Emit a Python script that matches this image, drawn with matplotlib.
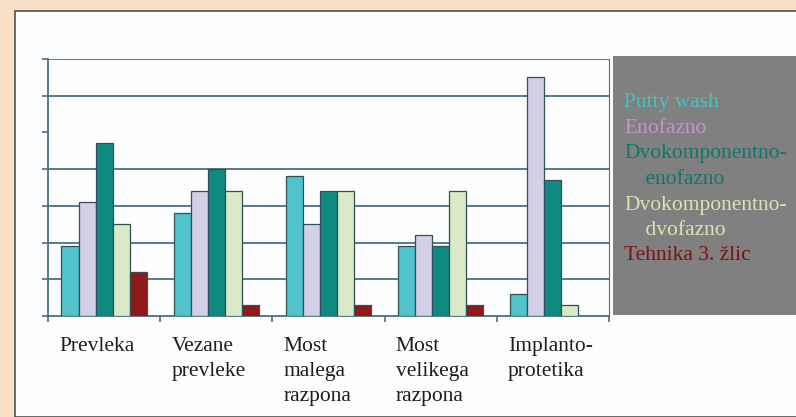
import matplotlib.pyplot as plt
import matplotlib.patches as mpatches
import numpy as np

# categories and series (gridline step = 10)
categories = ['Prevleka', 'Vezane\nprevleke', 'Most\nmalega\nrazpona',
              'Most\nvelikega\nrazpona', 'Implanto-\nprotetika']
series_names = ['Putty wash', 'Enofazno', 'Dvokomponentno-\n    enofazno',
                'Dvokomponentno-\n    dvofazno', 'Tehnika 3. žlic']
putty_wash = [19, 28, 38, 19, 6]
enofazno = [31, 34, 25, 22, 65]
dvo_eno = [47, 40, 34, 19, 37]
dvo_dvo = [25, 34, 34, 34, 3]
tehnika = [12, 3, 3, 3, 0]

bar_colors = ['#4fc4ca', '#d3cfe6', '#0f8a82', '#d9eac6', '#8e1a1a']
text_colors = ['#45c2c8', '#c993cc', '#0d766d', '#d5e7b0', '#7c1212']

all_series = [putty_wash, enofazno, dvo_eno, dvo_dvo, tehnika]

fig = plt.figure(figsize=(7.96, 4.17), dpi=100)
fig.patch.set_facecolor('#f7dfc5')

# white panel with dark border top/left
panel = mpatches.Rectangle((15 / 796, 0), 1, 1 - 11 / 417, transform=fig.transFigure,
                           facecolor='#fcfdfe', edgecolor='#505050', linewidth=1.2, zorder=-2)
fig.patches.append(panel)

# grey legend box
legbox = mpatches.Rectangle((613 / 796, 1 - 315 / 417), 1, (315 - 56) / 417,
                            transform=fig.transFigure, facecolor='#808080',
                            edgecolor='none', zorder=-1)
fig.patches.append(legbox)

ax = fig.add_axes([48 / 796, 1 - 316 / 417, (609 - 48) / 796, (316 - 59) / 417])
ax.set_facecolor('none')
ax.set_zorder(2)

x = np.arange(len(categories))
width = 0.152
for k, vals in enumerate(all_series):
    ax.bar(x + (k - 2) * width, vals, width, color=bar_colors[k],
           edgecolor='#2f4f5a', linewidth=0.9, zorder=3)

ax.set_xlim(-0.5, len(categories) - 0.5)
ax.set_ylim(0, 70)

grid_color = '#4a7080'
for g in [10, 20, 30, 40, 60, 70]:
    ax.axhline(g, color=grid_color, linewidth=1.3, zorder=1)

ax.set_yticks(np.arange(0, 71, 10))
ax.set_yticklabels([])
ax.set_xticks(np.arange(len(categories) + 1) - 0.5)
ax.set_xticklabels([])
ax.tick_params(axis='both', direction='out', length=4, width=1.2, color=grid_color)

for side in ['left', 'bottom', 'right']:
    ax.spines[side].set_color(grid_color)
    ax.spines[side].set_linewidth(1.3)
ax.spines['right'].set_linewidth(0.8)
ax.spines['top'].set_visible(False)

# category labels, left aligned under each group
for i, lab in enumerate(categories):
    ax.annotate(lab, xy=(i - 0.4, 0), xycoords=('data', 'axes fraction'),
                xytext=(0, -15), textcoords='offset points', ha='left', va='top',
                fontsize=15.5, family='Liberation Serif', color='#1e1e1e',
                linespacing=1.45)

# legend as coloured text, one line at a time
y0 = 103
for name, col in zip(series_names, text_colors):
    for line in name.split('\n'):
        fig.text(624 / 796, 1 - y0 / 417, line, color=col, fontsize=15.5,
                 family='Liberation Serif', va='center', ha='left')
        y0 += 25.5

fig.savefig('out.png', dpi=100, facecolor=fig.get_facecolor())
